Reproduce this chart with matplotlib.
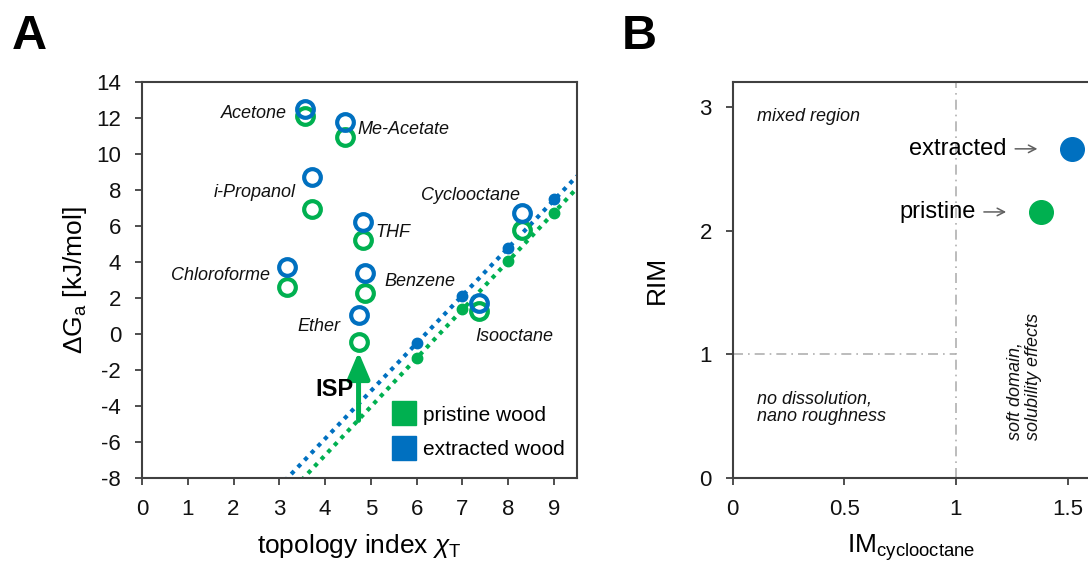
import matplotlib
matplotlib.use("Agg")
import matplotlib.pyplot as plt
import numpy as np
from matplotlib.lines import Line2D
from matplotlib.transforms import offset_copy

# -----------------------
# Data
# -----------------------
solvents = ["Acetone", "Me-Acetate", "i-Propanol", "THF", "Chloroforme",
            "Benzene", "Ether", "Isooctane", "Cyclooctane"]
chi_t = [3.57, 4.44, 3.72, 4.82, 3.17, 4.87, 4.73, 7.37, 8.29]
dg_pristine = [12.1, 10.96, 6.93, 5.22, 2.63, 2.30, -0.43, 1.29, 5.78]
dg_extracted = [12.48, 11.80, 8.74, 6.24, 3.74, 3.39, 1.06, 1.74, 6.71]

# n-alkanes (reference line)
alkane_chi = [6, 7, 8, 9]
alkane_pristine = [-1.35, 1.37, 4.07, 6.74]
alkane_extracted = [-0.48, 2.11, 4.76, 7.48]

# label offsets (points) relative to the extracted-wood marker
label_offsets = {
    "Acetone": (-13, -3, "right"),
    "Me-Acetate": (9, -6, "left"),
    "i-Propanol": (-12, -11.5, "right"),
    "THF": (9, -8, "left"),
    "Chloroforme": (-12, -6.5, "right"),
    "Benzene": (14, -6, "left"),
    "Ether": (-13, -8, "right"),
    "Isooctane": (-3, -24, "left"),
    "Cyclooctane": (-1, 13, "right"),
}

# panel B
samples = ["pristine", "extracted"]
im_cyclooctane = [1.38, 1.52]
rim = [2.15, 2.66]

GREEN = "#00B050"
BLUE = "#0070C0"
SPINE = "#404040"
TXT = "#111111"

plt.rcParams.update({
    "font.family": ["Liberation Sans", "DejaVu Sans"],
    "mathtext.fontset": "custom",
    "mathtext.rm": "Liberation Sans",
    "mathtext.it": "Liberation Sans:italic",
    "mathtext.bf": "Liberation Sans:bold",
    "axes.unicode_minus": False,
    "axes.linewidth": 1.5,
    "axes.edgecolor": SPINE,
})

fig = plt.figure(figsize=(10.88, 5.63), dpi=100)
axA = fig.add_axes([0.1305, 0.151, 0.3998, 0.7033])
axB = fig.add_axes([0.6734, 0.151, 0.3284, 0.7033])

# -----------------------
# Panel A
# -----------------------
xfit = np.linspace(0, 9.5, 200)
for yv, col in [(alkane_extracted, BLUE), (alkane_pristine, GREEN)]:
    k, d = np.polyfit(alkane_chi, yv, 1)
    axA.plot(xfit, k * xfit + d, color=col, lw=3, ls=(0, (1, 1.3)), zorder=1)

axA.plot(alkane_chi, alkane_pristine, "o", ms=7.5, color=GREEN, zorder=2)
axA.plot(alkane_chi, alkane_extracted, "o", ms=7.5, color=BLUE, zorder=2)

axA.plot(chi_t, dg_pristine, "o", ms=12, mfc="none", mec=GREEN, mew=3, ls="none", zorder=3)
axA.plot(chi_t, dg_extracted, "o", ms=12, mfc="none", mec=BLUE, mew=3, ls="none", zorder=4)

for name, x, y in zip(solvents, chi_t, dg_extracted):
    dx, dy, ha = label_offsets[name]
    axA.annotate(name, (x, y), xytext=(dx, dy), textcoords="offset points",
                 ha=ha, va="center", fontsize=13, style="italic", color=TXT)

# ISP arrow below ether
ether = solvents.index("Ether")
axA.annotate("", xy=(chi_t[ether], -1.0), xytext=(chi_t[ether], -4.8),
             arrowprops=dict(arrowstyle="-|>,head_length=0.8,head_width=0.34",
                             lw=3.6, color=GREEN, mutation_scale=20, shrinkA=0, shrinkB=0))
axA.text(4.62, -3.1, "ISP", ha="right", va="center", fontsize=17, fontweight="bold")

handles = [Line2D([], [], marker="s", ls="none", ms=17, color=GREEN),
           Line2D([], [], marker="s", ls="none", ms=17, color=BLUE)]
axA.legend(handles, ["pristine wood", "extracted wood"], loc="lower left",
           bbox_to_anchor=(0.535, 0.0), frameon=False, fontsize=15,
           handlelength=1.0, handletextpad=0.4, labelspacing=0.75)

axA.set_xlim(0, 9.5)
axA.set_ylim(-8, 14)
axA.set_xticks(range(0, 10))
axA.set_yticks(range(-8, 15, 2))
axA.set_xlabel(r"topology index $\chi_\mathregular{T}$", fontsize=19, labelpad=9)
axA.set_ylabel(r"$\Delta$G$_\mathregular{a}$ [kJ/mol]", fontsize=19, labelpad=5)

# -----------------------
# Panel B
# -----------------------
axB.plot([1, 1], [0, 3.2], color="#b0b0b0", lw=1.2, ls=(0, (6, 3, 1, 3)), zorder=1)
axB.plot([0, 1], [1, 1], color="#b0b0b0", lw=1.2, ls=(0, (6, 3, 1, 3)), zorder=1)

arrow_tip = offset_copy(axB.transData, fig=fig, x=-25, y=0, units="points")
for s, x, y, col in zip(samples, im_cyclooctane, rim, [GREEN, BLUE]):
    axB.plot(x, y, "o", ms=17, color=col, zorder=3)
    axB.annotate(s, (x, y), xytext=(-47, 0), textcoords="offset points",
                 ha="right", va="center", fontsize=17, color="black")
    axB.annotate("", xy=(x, y), xycoords=arrow_tip, xytext=(-16, 0),
                 textcoords="offset points",
                 arrowprops=dict(arrowstyle="->,head_length=0.35,head_width=0.18",
                                 lw=1.1, color="#606060", shrinkA=0, shrinkB=0,
                                 mutation_scale=15))

axB.text(0.107, 2.92, "mixed region", fontsize=13, style="italic", va="center", color=TXT)
axB.text(0.107, 0.567, "no dissolution,\nnano roughness", fontsize=13, style="italic",
         va="center", color=TXT, linespacing=1.1)
axB.text(1.305, 0.31, "soft domain,\nsolubility effects", fontsize=13, style="italic",
         rotation=90, ha="center", va="bottom", multialignment="left",
         color=TXT, linespacing=1.1)

axB.set_xlim(0, 1.6)
axB.set_ylim(0, 3.2)
axB.set_xticks([0, 0.5, 1, 1.5])
axB.set_xticklabels(["0", "0.5", "1", "1.5"])
axB.set_yticks([0, 1, 2, 3])
axB.set_xlabel(r"IM$_\mathregular{cyclooctane}$", fontsize=19, labelpad=9)
axB.set_ylabel("RIM", fontsize=19, labelpad=22)

for ax in (axA, axB):
    ax.tick_params(direction="out", length=5, width=1.3, color=SPINE,
                   labelsize=16, pad=10, labelcolor=TXT)

fig.text(0.011, 0.913, "A", fontsize=35, fontweight="bold", va="baseline")
fig.text(0.5717, 0.913, "B", fontsize=35, fontweight="bold", va="baseline")

fig.savefig("out.png", dpi=100)
